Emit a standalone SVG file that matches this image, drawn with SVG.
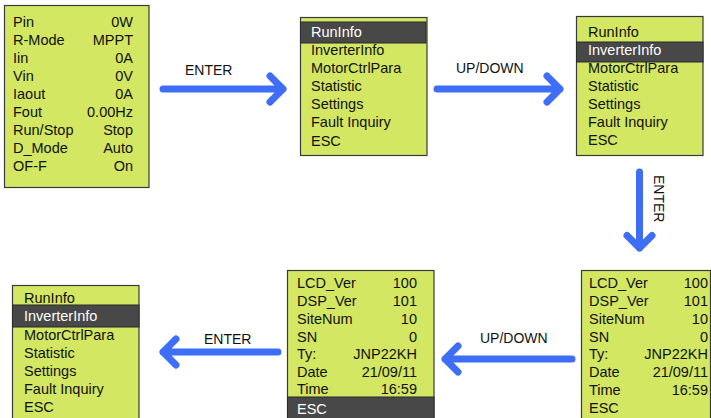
<svg xmlns="http://www.w3.org/2000/svg" width="711" height="418" viewBox="0 0 711 418">
<style>
.box{fill:#d3e763;stroke:#3a3a3a;stroke-width:1.2}
.hl{fill:#484848;stroke:#2a2a2a;stroke-width:1}
text{font-family:"Liberation Sans",Arial,sans-serif;font-size:14.5px;fill:#111}
.w{fill:#ffffff}
.r{text-anchor:end}
.lbl{font-size:14px;fill:#111}
.arr{fill:none;stroke:#3d6ef5;stroke-width:7;stroke-linecap:round;stroke-linejoin:round}
</style>
<rect width="711" height="418" fill="#ffffff"/>
<g id="status">
<rect class="box" x="4.5" y="5.5" width="144.5" height="182"/>
<text x="13" y="27">Pin</text><text class="r" x="133" y="27">0W</text>
<text x="13" y="45">R-Mode</text><text class="r" x="133" y="45">MPPT</text>
<text x="13" y="63">Iin</text><text class="r" x="133" y="63">0A</text>
<text x="13" y="81">Vin</text><text class="r" x="133" y="81">0V</text>
<text x="13" y="99">Iaout</text><text class="r" x="133" y="99">0A</text>
<text x="13" y="117">Fout</text><text class="r" x="133" y="117">0.00Hz</text>
<text x="13" y="135">Run/Stop</text><text class="r" x="133" y="135">Stop</text>
<text x="13" y="153">D_Mode</text><text class="r" x="133" y="153">Auto</text>
<text x="13" y="171">OF-F</text><text class="r" x="133" y="171">On</text>
</g>
<g id="menu1">
<rect class="box" x="300.5" y="17.5" width="126.5" height="138"/>
<rect class="hl" x="300.5" y="22" width="125.5" height="21"/>
<text class="w" x="311" y="37">RunInfo</text>
<text x="311" y="55">InverterInfo</text>
<text x="311" y="73">MotorCtrlPara</text>
<text x="311" y="91">Statistic</text>
<text x="311" y="109">Settings</text>
<text x="311" y="127">Fault Inquiry</text>
<text x="311" y="146">ESC</text>
</g>
<g id="menu2">
<rect class="box" x="576.5" y="16.5" width="126.5" height="139"/>
<rect class="hl" x="576.5" y="42" width="126.5" height="20"/>
<text x="588" y="37">RunInfo</text>
<text class="w" x="588" y="55">InverterInfo</text>
<text x="588" y="73">MotorCtrlPara</text>
<text x="588" y="91">Statistic</text>
<text x="588" y="109">Settings</text>
<text x="588" y="127">Fault Inquiry</text>
<text x="588" y="145">ESC</text>
</g>
<g id="info2">
<rect class="box" x="581.5" y="270.5" width="129" height="155"/>
<text x="589" y="288">LCD_Ver</text><text class="r" x="708" y="288">100</text>
<text x="589" y="306">DSP_Ver</text><text class="r" x="708" y="306">101</text>
<text x="589" y="324">SiteNum</text><text class="r" x="708" y="324">10</text>
<text x="589" y="342">SN</text><text class="r" x="708" y="342">0</text>
<text x="589" y="359">Ty:</text><text class="r" x="708" y="359">JNP22KH</text>
<text x="589" y="377">Date</text><text class="r" x="708" y="377">21/09/11</text>
<text x="589" y="395">Time</text><text class="r" x="708" y="395">16:59</text>
<text x="589" y="413">ESC</text>
</g>
<g id="info1">
<rect class="box" x="287.5" y="270.5" width="146.5" height="155"/>
<rect class="hl" x="287.5" y="397" width="146.5" height="26"/>
<text x="297" y="288">LCD_Ver</text><text class="r" x="417" y="288">100</text>
<text x="297" y="306">DSP_Ver</text><text class="r" x="417" y="306">101</text>
<text x="297" y="324">SiteNum</text><text class="r" x="417" y="324">10</text>
<text x="297" y="342">SN</text><text class="r" x="417" y="342">0</text>
<text x="297" y="359">Ty:</text><text class="r" x="417" y="359">JNP22KH</text>
<text x="297" y="377">Date</text><text class="r" x="417" y="377">21/09/11</text>
<text x="297" y="394">Time</text><text class="r" x="417" y="394">16:59</text>
<text class="w" x="297" y="414">ESC</text>
</g>
<g id="menu3">
<rect class="box" x="12.5" y="285.5" width="126.5" height="140"/>
<rect class="hl" x="12.5" y="305" width="126.5" height="22"/>
<text x="24" y="303">RunInfo</text>
<text class="w" x="24" y="321">InverterInfo</text>
<text x="24" y="340">MotorCtrlPara</text>
<text x="24" y="358">Statistic</text>
<text x="24" y="376">Settings</text>
<text x="24" y="394">Fault Inquiry</text>
<text x="24" y="412">ESC</text>
</g>
<g id="connectors">
<path class="arr" d="M163 89H283M270 76L283 89L270 102"/>
<text class="lbl" x="185" y="75">ENTER</text>
<path class="arr" d="M437 89H560M547 76L560 89L547 102"/>
<text class="lbl" x="456" y="73">UP/DOWN</text>
<path class="arr" d="M639.5 172V248M627 235.5L639.5 248L652 235.5"/>
<text class="lbl" transform="translate(654 175) rotate(90)">ENTER</text>
<path class="arr" d="M572 359H445M458 346L445 359L458 372"/>
<text class="lbl" x="480" y="343">UP/DOWN</text>
<path class="arr" d="M278 352H163M176 339L163 352L176 365"/>
<text class="lbl" x="204" y="344">ENTER</text>
</g>
</svg>
